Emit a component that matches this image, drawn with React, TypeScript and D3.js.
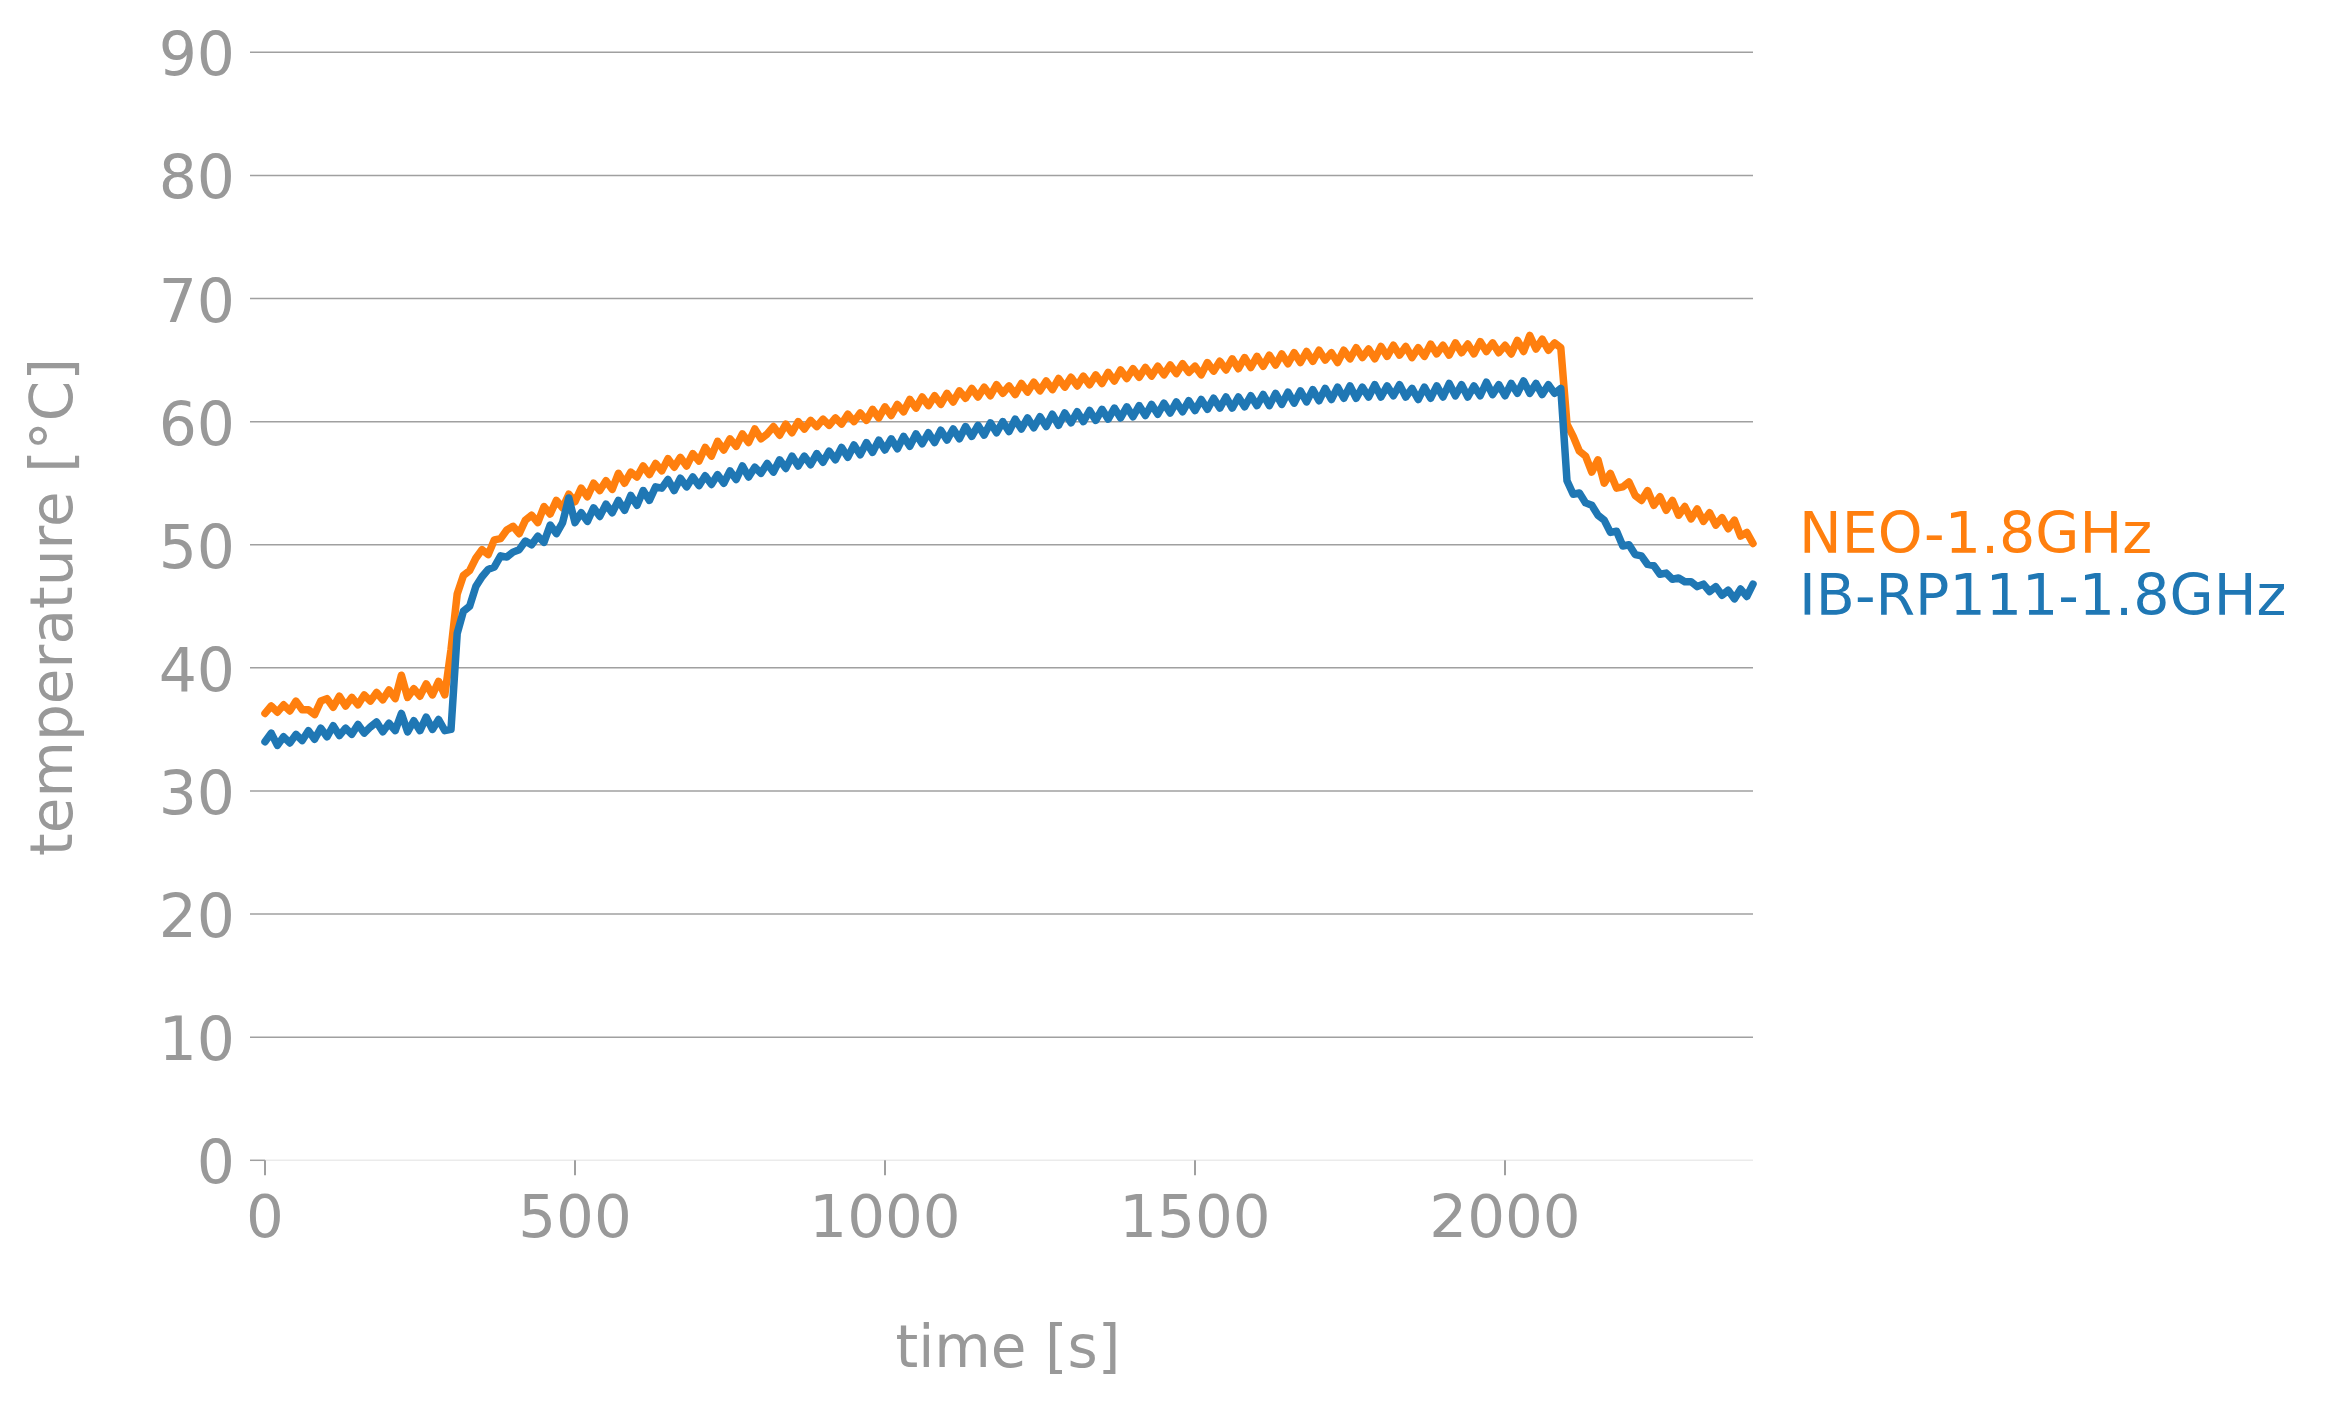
import React from "react";
import * as d3 from "d3";

const times: number[] = d3.range(0, 2401, 10);

const neo: number[] = [
  36.3, 36.9, 36.4, 37.0, 36.5, 37.3, 36.6, 36.6, 36.2, 37.3,
  37.5, 36.8, 37.7, 36.9, 37.6, 37.0, 37.8, 37.3, 38.0, 37.4,
  38.2, 37.5, 39.4, 37.6, 38.3, 37.7, 38.7, 37.8, 38.9, 37.8,
  41.5, 46.0, 47.5, 47.9, 48.9, 49.6, 49.2, 50.4, 50.5, 51.2,
  51.5, 50.9, 52.0, 52.4, 51.8, 53.1, 52.5, 53.6, 53.0, 54.1,
  53.5, 54.6, 53.9, 55.0, 54.4, 55.2, 54.5, 55.8, 55.0, 55.9,
  55.5, 56.4, 55.7, 56.6, 56.0, 57.0, 56.3, 57.1, 56.4, 57.4,
  56.8, 57.9, 57.2, 58.4, 57.7, 58.6, 58.0, 59.0, 58.3, 59.4,
  58.6, 59.0, 59.6, 58.9, 59.8, 59.1, 60.0, 59.4, 60.1, 59.6,
  60.2, 59.7, 60.3, 59.8, 60.6, 60.0, 60.7, 60.1, 61.0, 60.3,
  61.2, 60.5, 61.4, 60.8, 61.8, 61.1, 62.0, 61.3, 62.1, 61.4,
  62.3, 61.6, 62.5, 61.9, 62.7, 62.0, 62.8, 62.1, 63.0, 62.3,
  62.9, 62.2, 63.1, 62.4, 63.2, 62.5, 63.3, 62.6, 63.5, 62.8,
  63.6, 62.9, 63.7, 63.0, 63.8, 63.1, 64.0, 63.3, 64.2, 63.5,
  64.3, 63.6, 64.4, 63.7, 64.5, 63.8, 64.6, 63.9, 64.7, 64.0,
  64.5, 63.8, 64.8, 64.1, 64.9, 64.2, 65.1, 64.3, 65.2, 64.4,
  65.3, 64.5, 65.4, 64.6, 65.5, 64.7, 65.6, 64.8, 65.7, 64.9,
  65.8, 65.0, 65.6, 64.8, 65.8, 65.1, 66.0, 65.2, 65.9, 65.1,
  66.1, 65.3, 66.2, 65.4, 66.1, 65.2, 66.0, 65.3, 66.3, 65.5,
  66.2, 65.4, 66.4, 65.6, 66.3, 65.5, 66.5, 65.7, 66.4, 65.6,
  66.2, 65.5, 66.6, 65.7, 67.0, 65.9, 66.7, 65.8, 66.4, 66.0,
  59.8, 58.8, 57.6, 57.2, 55.9, 56.9, 55.0, 55.8, 54.6, 54.7,
  55.1, 54.0, 53.6, 54.4, 53.2, 53.9, 52.8, 53.6, 52.4, 53.1,
  52.1, 52.9, 51.9, 52.6, 51.6, 52.2, 51.3, 52.0, 50.7, 51.0,
  50.1,
];

const ib: number[] = [
  34.0, 34.7, 33.7, 34.4, 33.9, 34.6, 34.1, 34.9, 34.2, 35.1,
  34.4, 35.3, 34.5, 35.1, 34.6, 35.4, 34.7, 35.2, 35.6, 34.8,
  35.5, 34.9, 36.3, 34.8, 35.7, 34.9, 36.0, 35.0, 35.8, 34.9,
  35.0, 42.8, 44.6, 45.0, 46.6, 47.4, 48.0, 48.2, 49.1, 49.0,
  49.4, 49.6, 50.3, 50.0, 50.7, 50.2, 51.6, 50.9, 51.8, 53.8,
  51.8, 52.6, 51.9, 53.0, 52.3, 53.3, 52.6, 53.6, 52.8, 54.0,
  53.2, 54.4, 53.6, 54.7, 54.6, 55.3, 54.4, 55.4, 54.7, 55.5,
  54.8, 55.6, 54.9, 55.7, 55.0, 56.0, 55.3, 56.4, 55.5, 56.3,
  55.8, 56.6, 55.9, 56.9, 56.2, 57.2, 56.4, 57.2, 56.5, 57.4,
  56.7, 57.6, 56.9, 57.9, 57.1, 58.1, 57.3, 58.3, 57.5, 58.5,
  57.7, 58.6, 57.8, 58.8, 58.0, 59.0, 58.2, 59.1, 58.3, 59.3,
  58.5, 59.4, 58.6, 59.6, 58.8, 59.7, 58.9, 59.9, 59.1, 60.0,
  59.2, 60.2, 59.4, 60.3, 59.5, 60.4, 59.6, 60.6, 59.7, 60.7,
  59.9, 60.8, 60.0, 60.9, 60.1, 61.0, 60.2, 61.1, 60.3, 61.2,
  60.4, 61.3, 60.5, 61.4, 60.6, 61.5, 60.7, 61.6, 60.8, 61.7,
  60.9, 61.8, 61.0, 61.9, 61.1, 62.0, 61.1, 62.0, 61.2, 62.1,
  61.3, 62.2, 61.3, 62.3, 61.4, 62.4, 61.5, 62.5, 61.6, 62.6,
  61.7, 62.7, 61.8, 62.8, 61.9, 62.9, 61.9, 62.8, 62.0, 63.0,
  62.0, 62.9, 62.1, 63.0, 62.0, 62.7, 61.8, 62.8, 61.9, 62.9,
  62.0, 63.1, 62.1, 63.0, 62.0, 62.9, 62.1, 63.2, 62.2, 63.0,
  62.1, 63.1, 62.3, 63.3, 62.3, 63.1, 62.2, 63.0, 62.3, 62.7,
  55.2, 54.1, 54.2, 53.4, 53.2, 52.4, 52.0, 51.0, 51.1, 49.9,
  50.0, 49.2, 49.1, 48.4, 48.3, 47.6, 47.7, 47.2, 47.3, 47.0,
  47.0, 46.6, 46.8, 46.2, 46.6, 45.9, 46.3, 45.6, 46.4, 45.8,
  46.8,
];

const seriesNames = ["NEO-1.8GHz", "IB-RP111-1.8GHz"];
const seriesColors = ["#ff7f0e", "#1f77b4"];
const yTicks = [0, 10, 20, 30, 40, 50, 60, 70, 80, 90];
const xTicks = [0, 500, 1000, 1500, 2000];
const xLabel = "time [s]";
const yLabel = "temperature [°C]";

const W = 2327;
const H = 1409;
const left = 265;
const right = 1753;
const top = 52.3;
const bottom = 1160.3;
const gray = "#999999";
const font = "DejaVu Sans, sans-serif";

export default function App() {
  const x = d3.scaleLinear().domain([0, 2400]).range([left, right]);
  const y = d3.scaleLinear().domain([0, 90]).range([bottom, top]);
  const line = d3
    .line<number>()
    .x((_, i) => x(times[i]))
    .y((d) => y(d));

  const seriesData = [neo, ib];

  return (
    <svg
      width={W}
      height={H}
      style={{ position: "absolute", left: 0, top: 0, background: "#fff" }}
      fontFamily={font}
    >
      <rect x={0} y={0} width={W} height={H} fill="#fff" />
      {yTicks.map((t) => (
        <g key={"y" + t}>
          {t === 0 ? (
            <>
              <line x1={left - 15} x2={left} y1={y(t)} y2={y(t)} stroke="#a0a0a0" strokeWidth={1.5} />
              <line x1={left} x2={right} y1={y(t)} y2={y(t)} stroke="#ebebeb" strokeWidth={1.5} />
            </>
          ) : (
            <line x1={left - 15} x2={right} y1={y(t)} y2={y(t)} stroke="#a0a0a0" strokeWidth={1.5} />
          )}
          <text x={235} y={y(t) + 23} fontSize={60} fill={gray} textAnchor="end">
            {t}
          </text>
        </g>
      ))}
      {xTicks.map((t) => (
        <g key={"x" + t}>
          <line x1={x(t)} x2={x(t)} y1={bottom} y2={bottom + 15} stroke="#a0a0a0" strokeWidth={2} />
          <text x={x(t)} y={1237} fontSize={59.5} fill={gray} textAnchor="middle">
            {t}
          </text>
        </g>
      ))}
      <text x={1008} y={1367} fontSize={58} fill={gray} textAnchor="middle">
        {xLabel}
      </text>
      <text
        transform={`translate(72,607) rotate(-90)`}
        fontSize={58}
        fill={gray}
        textAnchor="middle"
      >
        {yLabel}
      </text>
      {seriesData.map((s, i) => (
        <path
          key={seriesNames[i]}
          d={line(s) || ""}
          fill="none"
          stroke={seriesColors[i]}
          strokeWidth={7.5}
          strokeLinejoin="round"
          strokeLinecap="round"
        />
      ))}
      {seriesNames.map((n, i) => (
        <text key={n} x={1799} y={553 + i * 62} fontSize={57} fill={seriesColors[i]}>
          {n}
        </text>
      ))}
    </svg>
  );
}
